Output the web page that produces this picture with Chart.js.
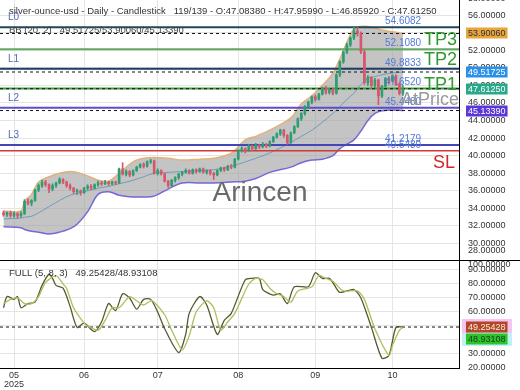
<!DOCTYPE html>
<html>
<head>
<meta charset="utf-8">
<script src="https://cdn.jsdelivr.net/npm/chart.js@4.4.1/dist/chart.umd.min.js"></script>
<style>
  html, body { margin: 0; padding: 0; background: #fff; }
  #wrap { position: relative; width: 520px; height: 390px; overflow: hidden; }
  #priceChart { position: absolute; left: 0; top: 0; }
  #stochChart { position: absolute; left: 0; top: 261px; }
</style>
</head>
<body>
<div id="wrap">
  <canvas id="priceChart" width="520" height="261"></canvas>
  <canvas id="stochChart" width="520" height="129"></canvas>
</div>
<script>
// ---- data ----
const headerText = "silver-ounce-usd - Daily - Candlestick   119/139 - O:47.08380 - H:47.95990 - L:46.85920 - C:47.61250";
const bbText = "BB (20, 2)   49.51725/53.90060/45.13390";
const stochText = "FULL (5, 8, 3)   49.25428/48.93108";
const watermark = "Arincen";

// daily candles [open, high, low, close]
const candles = [
  [33.5, 33.7, 33.1, 33.3], [33.3, 33.6, 33.1, 33.5], [33.5, 33.7, 33.0, 33.2], [33.2, 33.6, 33.0, 33.4],
  [33.4, 33.5, 32.9, 33.2], [33.2, 33.6, 33.0, 33.4], [33.4, 35.0, 33.3, 34.8], [34.8, 35.1, 34.4, 34.6],
  [34.6, 35.0, 34.3, 34.9], [34.9, 36.2, 34.8, 36.1], [36.1, 36.8, 35.9, 36.6], [36.6, 37.2, 36.4, 37.0],
  [37.0, 37.2, 36.5, 36.7], [36.7, 36.8, 35.8, 36.2], [36.2, 36.8, 36.0, 36.6], [36.6, 37.0, 36.4, 36.9],
  [36.9, 37.5, 36.8, 37.3], [37.3, 37.4, 36.8, 37.0], [37.0, 37.1, 36.4, 36.6], [36.6, 36.8, 36.1, 36.3],
  [36.3, 36.4, 35.7, 35.9], [35.9, 36.2, 35.6, 36.0], [36.0, 36.1, 35.5, 35.8], [35.8, 36.4, 35.7, 36.3],
  [36.3, 36.7, 36.1, 36.5], [36.5, 36.7, 36.1, 36.3], [36.3, 36.8, 36.2, 36.7], [36.7, 37.1, 36.5, 36.9],
  [36.9, 37.1, 36.6, 36.8], [36.8, 37.2, 36.7, 37.0], [37.0, 37.1, 36.6, 36.8], [36.8, 37.1, 36.7, 37.0],
  [37.0, 37.1, 36.7, 36.9], [36.9, 38.6, 36.8, 38.5], [38.5, 39.2, 37.8, 37.9], [37.9, 38.4, 37.7, 38.2],
  [38.2, 38.3, 37.6, 37.8], [37.8, 38.4, 37.7, 38.3], [38.3, 38.8, 38.2, 38.7], [38.7, 39.1, 38.6, 39.0],
  [39.0, 39.2, 38.6, 38.8], [38.8, 39.4, 38.7, 39.3], [39.3, 39.6, 39.1, 39.4], [39.4, 39.5, 37.9, 38.0],
  [38.0, 38.5, 37.8, 38.3], [38.3, 38.4, 37.8, 37.9], [37.9, 38.0, 37.0, 37.1], [37.1, 37.2, 36.4, 36.6],
  [36.6, 37.3, 36.5, 37.2], [37.2, 37.6, 37.0, 37.5], [37.5, 38.0, 37.3, 37.9], [37.9, 38.2, 37.7, 38.1],
  [38.1, 38.5, 38.0, 38.3], [38.3, 38.4, 37.9, 38.0], [38.0, 38.5, 37.9, 38.4], [38.4, 38.5, 38.0, 38.2],
  [38.2, 38.6, 38.1, 38.5], [38.5, 38.6, 38.0, 38.1], [38.1, 38.4, 37.9, 38.3], [38.3, 38.4, 37.8, 38.0],
  [38.0, 38.1, 37.3, 37.8], [37.8, 38.4, 37.7, 38.3], [38.3, 38.7, 38.2, 38.6], [38.6, 38.7, 38.2, 38.4],
  [38.4, 38.9, 38.3, 38.8], [38.8, 39.0, 38.5, 38.7], [38.7, 39.7, 38.6, 39.6], [39.6, 40.7, 39.5, 40.6],
  [40.6, 41.0, 40.4, 40.8], [40.8, 40.9, 40.3, 40.6], [40.6, 41.3, 40.5, 41.1], [41.1, 41.2, 40.6, 40.8],
  [40.8, 41.4, 40.7, 41.2], [41.2, 41.3, 40.8, 41.0], [41.0, 41.5, 40.9, 41.3], [41.3, 41.4, 40.9, 41.1],
  [41.1, 41.7, 41.0, 41.6], [41.6, 42.2, 41.5, 42.1], [42.1, 42.6, 42.0, 42.5], [42.5, 43.0, 42.3, 42.9],
  [42.9, 43.0, 42.1, 42.3], [42.3, 42.4, 41.3, 41.5], [41.5, 42.7, 41.4, 42.6], [42.6, 43.4, 42.5, 43.3],
  [43.3, 44.3, 43.2, 44.2], [44.2, 44.9, 44.0, 44.8], [44.8, 45.7, 44.6, 45.6], [45.6, 46.2, 45.4, 46.1],
  [46.1, 46.8, 45.9, 46.7], [46.7, 46.9, 46.2, 46.4], [46.4, 47.1, 46.3, 47.0], [47.0, 47.8, 46.9, 47.7],
  [47.7, 47.9, 47.0, 47.2], [47.2, 47.6, 47.0, 47.5], [47.5, 47.7, 46.9, 47.1], [47.1, 49.3, 47.0, 49.2],
  [49.2, 50.8, 49.0, 50.7], [50.7, 51.9, 50.5, 51.8], [51.8, 52.8, 51.6, 52.6], [52.6, 53.5, 52.4, 53.4],
  [53.4, 54.7, 53.2, 54.2], [54.2, 54.6, 53.6, 53.9], [53.9, 54.1, 51.6, 51.8], [51.8, 52.0, 48.1, 48.3],
  [48.3, 49.1, 48.0, 48.9], [48.9, 49.0, 47.8, 48.0], [48.0, 48.8, 47.7, 48.6], [48.6, 48.7, 45.8, 46.8],
  [46.8, 48.0, 46.6, 47.9], [47.9, 48.9, 47.8, 48.8], [48.8, 49.0, 48.2, 48.5], [48.5, 49.2, 48.4, 49.1],
  [49.1, 49.2, 48.0, 48.1], [48.1, 48.3, 46.9, 47.1], [47.0838, 47.9599, 46.8592, 47.6125]
];

// Bollinger band (20, 2) readings at these candle positions
const bandX   = [0, 5, 6, 8, 10, 13, 16, 19, 21, 24, 27, 30, 33, 37, 40, 43, 47, 51, 56, 60, 65, 69, 72, 76, 82, 85, 88, 91, 94, 96, 98, 100, 102, 104, 106, 108, 111, 114];
const bbUpper = [33.7, 33.7, 34.8, 35.6, 37.0, 37.6, 38.0, 38.2, 38.1, 37.7, 37.2, 37.1, 38.0, 39.3, 39.7, 39.8, 39.7, 39.5, 39.6, 39.7, 40.3, 41.8, 42.2, 42.9, 44.3, 45.9, 46.8, 48.0, 49.4, 51.0, 52.9, 54.4, 54.7, 54.7, 54.5, 54.3, 54.1, 53.9006];
const bbMid   = [32.8, 32.9, 33.0, 33.1, 33.5, 34.2, 34.9, 35.5, 35.7, 36.0, 36.3, 36.5, 36.8, 37.2, 37.6, 38.0, 38.1, 38.2, 38.3, 38.4, 38.8, 39.3, 39.7, 40.3, 41.5, 42.2, 42.9, 43.8, 44.8, 45.6, 46.4, 47.1, 48.1, 48.8, 49.0, 49.2, 49.4, 49.51725];
const bbLower = [31.9, 31.8, 31.6, 31.4, 31.3, 31.1, 31.3, 31.7, 32.2, 33.6, 35.6, 35.9, 35.5, 35.3, 35.3, 35.4, 36.2, 36.9, 36.9, 36.9, 37.0, 37.1, 37.4, 38.1, 38.7, 39.2, 39.5, 39.6, 40.0, 40.8, 41.3, 41.8, 42.8, 44.0, 44.8, 45.1, 45.2, 45.1339];

// horizontal levels
const levelValues = [54.6082, 52.1080, 49.8833, 47.6520, 45.4480, 41.2179, 40.5480];
const levelLeftNames  = ["L0", "", "L1", "", "L2", "L3", ""];
const levelRightNames = ["", "TP3", "TP2", "TP1", "AtPrice", "", "SL"];
// current values marked with dashed lines and axis tags
const bbNow = [53.90060, 49.51725, 45.13390];   // upper / mid / lower
const lastClose = 47.61250;

// stochastic FULL (5, 8, 3)
const kX   = [0, 1, 3, 4, 5, 7, 9, 11, 13, 14, 15, 17, 19, 21, 23, 26, 28, 30, 32, 34, 36, 38, 40, 42, 44, 46, 50, 52, 53, 56, 58, 61, 63, 65, 69, 71, 73, 74, 77, 79, 81, 83, 87, 89, 91, 93, 94, 96, 100, 102, 105, 108, 110, 112, 114];
const kVal = [63, 71, 69, 71, 63, 66, 67, 79, 87, 84, 79, 77, 64, 49, 52, 46, 53, 66, 61, 73, 70, 62, 69, 69, 60, 48, 31, 44, 59, 71, 65, 44, 54, 59, 83, 84, 84, 76, 72, 73, 66, 78, 78, 88, 84, 84, 81, 74, 76, 70, 49, 27, 29, 49, 49.25428];
const dX   = [0, 2, 4, 6, 8, 10, 12, 15, 17, 18, 20, 23, 24, 27, 29, 31, 33, 36, 38, 40, 42, 43, 46, 48, 51, 53, 55, 58, 60, 62, 64, 66, 70, 72, 74, 76, 78, 80, 82, 84, 88, 90, 92, 94, 97, 101, 103, 106, 110, 111, 113, 114];
const dVal = [66, 69, 70, 66, 66, 71, 81, 86, 80, 77, 63, 52, 50, 47, 54, 63, 63, 71, 68, 65, 68, 67, 58, 47, 33, 43, 60, 68, 63, 47, 53, 59, 80, 84, 83, 77, 73, 71, 67, 75, 78, 86, 84, 82, 75, 75, 69, 48, 29, 36, 47, 48.93108];

// axes
const monthTicks  = [3, 23, 44, 67, 89, 111];
const monthLabels = ["05", "06", "07", "08", "09", "10"];
const yearLabel = "2025";
const priceTicks = [30, 32, 34, 36, 38, 40, 42, 44, 46, 48, 50, 52, 54, 56];
const stochTicks = [20, 30, 40, 50, 60, 70, 80, 90];

// ---- drawing ----
const FONT = '"Liberation Sans", Arial, sans-serif';
Chart.defaults.font.family = FONT;
Chart.defaults.font.size = 9;
Chart.defaults.color = "#333";

const X_MIN = -1, X_MAX = 130;
const GREEN = "#2f9d72", RED = "#d7566b";
const GRID = "#e4e4e4";

const pts = (xs, ys) => xs.map((x, i) => ({ x: x, y: ys[i] }));
const hline = (v) => [{ x: X_MIN, y: v }, { x: X_MAX, y: v }];

const candleColors = candles.map(c => c[3] >= c[0] ? GREEN : RED);
const bodies = candles.map((c, i) => ({ x: i, y: [c[0], c[3]] }));
const wicks = candles.map((c, i) => ({ x: i, y: [c[2], c[1]] }));

const levelColors = ["#1d4858", "#62a862", "#1d3c66", "#3c9a3c", "#5a4ecf", "#4646b6", "#d43838"];

function text(ctx, s, x, y, font, color, align) {
  ctx.font = font;
  ctx.fillStyle = color;
  ctx.textAlign = align || "left";
  ctx.textBaseline = "middle";
  ctx.fillText(s, x, y);
}

function tag(ctx, s, y, bg, fg) {
  ctx.font = "9px " + FONT;
  const w = ctx.measureText(s).width;
  ctx.fillStyle = bg;
  ctx.fillRect(466, Math.round(y) - 5.5, w + 4, 11);
  text(ctx, s, 468, y + 0.5, "9px " + FONT, fg);
}

const priceOverlay = {
  id: "priceOverlay",
  afterDraw(chart) {
    const ctx = chart.ctx;
    const y = chart.scales.y;
    ctx.save();
    text(ctx, headerText, 9, 11, "9.5px " + FONT, "#333");
    text(ctx, bbText, 9, 30, "9.5px " + FONT, "#444");

    levelValues.forEach((v, i) => {
      const py = y.getPixelForValue(v);
      if (levelLeftNames[i]) text(ctx, levelLeftNames[i], 8, py - 10, "10px " + FONT, "#4d6db3");
      text(ctx, v.toFixed(4), 385, py - 6, "10px " + FONT, "#5479d8");
      const name = levelRightNames[i];
      if (name === "SL") text(ctx, name, 433, py + 12, "18px " + FONT, "#d02828");
      else if (name === "AtPrice") text(ctx, name, 401, py - 8, "18px " + FONT, "#9a9a9a");
      else if (name === "TP1") text(ctx, name, 424, py - 3, "18px " + FONT, "#2f9a2f");
      else if (name) text(ctx, name, 424, py - 9, "18px " + FONT, "#2f9a2f");
    });

    text(ctx, watermark, 260, 193, "28px " + FONT, "#6a6a6a", "center");

    // clipped edge labels of the price axis
    text(ctx, (58).toFixed(5), 468, -1, "9px " + FONT, "#333");
    text(ctx, (28).toFixed(5), 468, 251, "9px " + FONT, "#333");

    tag(ctx, bbNow[0].toFixed(5), y.getPixelForValue(bbNow[0]), "#e6a63c", "#333");
    tag(ctx, bbNow[1].toFixed(5), y.getPixelForValue(bbNow[1]), "#2b91e8", "#fff");
    tag(ctx, lastClose.toFixed(5), y.getPixelForValue(lastClose), "#27a88a", "#fff");
    tag(ctx, bbNow[2].toFixed(5), y.getPixelForValue(bbNow[2]), "#5b36d8", "#fff");

    // separator across the whole width
    ctx.strokeStyle = "#000";
    ctx.lineWidth = 1;
    ctx.beginPath();
    ctx.moveTo(0, 260.5);
    ctx.lineTo(520, 260.5);
    ctx.stroke();
    ctx.restore();
  }
};

const stochOverlay = {
  id: "stochOverlay",
  afterDraw(chart) {
    const ctx = chart.ctx;
    const y = chart.scales.y;
    ctx.save();
    text(ctx, stochText, 9, 12, "9.5px " + FONT, "#333");
    text(ctx, (100).toFixed(5), 468, 4, "9px " + FONT, "#333");
    const ky = y.getPixelForValue(kVal[kVal.length - 1]);
    ctx.fillStyle = "#f6c4f0";
    ctx.fillRect(462, ky - 8, 50, 14);
    ctx.fillStyle = "#bff3f3";
    ctx.fillRect(462, ky + 6, 50, 13);
    tag(ctx, kVal[kVal.length - 1].toFixed(5), ky, "#b3452c", "#f4f0d0");
    tag(ctx, dVal[dVal.length - 1].toFixed(5), ky + 12, "#2cc42c", "#1a3a1a");
    ctx.restore();
  }
};

const fixRight = (s) => { s.width = 61; s.paddingTop = 0; s.paddingBottom = 0; };

// price panel
const levelSets = levelValues.map((v, i) => ({
  type: "line", data: hline(v), borderColor: levelColors[i],
  borderWidth: i === 6 ? 1.5 : 2, pointRadius: 0, order: 5
}));
const dashedSets = [bbNow[0], bbNow[1], lastClose, bbNow[2]].map(v => ({
  type: "line", data: hline(v), borderColor: "#111", borderWidth: 1,
  borderDash: [3, 3], pointRadius: 0, order: 4
}));

new Chart(document.getElementById("priceChart"), {
  type: "bar",
  data: {
    datasets: [
      { type: "line", data: pts(bandX, bbUpper), borderColor: "#e2b27a", borderWidth: 1.5,
        pointRadius: 0, tension: 0.35, fill: "+1", backgroundColor: "rgba(160,160,160,0.62)", order: 10 },
      { type: "line", data: pts(bandX, bbLower), borderColor: "#7767d8", borderWidth: 1.5,
        pointRadius: 0, tension: 0.35, fill: false, order: 9 },
      { type: "line", data: pts(bandX, bbMid), borderColor: "#6c9db8", borderWidth: 1,
        pointRadius: 0, tension: 0.35, fill: false, order: 8 },
      ...levelSets,
      ...dashedSets,
      { data: wicks, backgroundColor: candleColors, barThickness: 1, grouped: false, order: 1 },
      { data: bodies, backgroundColor: candleColors, barThickness: 2, grouped: false,
        minBarLength: 1, order: 0 }
    ]
  },
  options: {
    responsive: false,
    animation: false,
    plugins: { legend: { display: false }, tooltip: { enabled: false } },
    layout: { padding: 0 },
    scales: {
      x: {
        type: "linear", min: X_MIN, max: X_MAX, offset: false,
        grid: { color: GRID, drawTicks: false, offset: false },
        border: { color: "#000" },
        ticks: { display: false },
        afterBuildTicks: (s) => { s.ticks = monthTicks.map(v => ({ value: v })); },
        afterFit: (s) => { s.height = 1; s.paddingLeft = 0; s.paddingRight = 0; }
      },
      y: {
        position: "right", min: 28.13, max: 57.71,
        grid: { color: GRID, drawTicks: false },
        border: { color: "#000" },
        ticks: { padding: 9, callback: (v) => v.toFixed(5) },
        afterBuildTicks: (s) => { s.ticks = priceTicks.map(v => ({ value: v })); },
        afterFit: fixRight
      }
    }
  },
  plugins: [priceOverlay]
});

// stochastic panel
new Chart(document.getElementById("stochChart"), {
  type: "line",
  data: {
    datasets: [
      { data: pts(dX, dVal), borderColor: "#a8c25c", borderWidth: 1.3, pointRadius: 0, tension: 0.25 },
      { data: pts(kX, kVal), borderColor: "#5a5630", borderWidth: 1.3, pointRadius: 0, tension: 0.25 },
      { data: hline(kVal[kVal.length - 1]), borderColor: "#111", borderWidth: 1,
        borderDash: [3, 3], pointRadius: 0 }
    ]
  },
  options: {
    responsive: false,
    animation: false,
    plugins: { legend: { display: false }, tooltip: { enabled: false } },
    layout: { padding: 0 },
    scales: {
      x: {
        type: "linear", min: X_MIN, max: X_MAX,
        grid: { color: GRID, drawTicks: false },
        border: { color: "#000" },
        ticks: {
          padding: 3, maxRotation: 0, autoSkip: false,
          font: { size: 9, lineHeight: 1 },
          callback: (v, i) => i === 0 ? [monthLabels[0], yearLabel] : monthLabels[i]
        },
        afterBuildTicks: (s) => { s.ticks = monthTicks.map(v => ({ value: v })); },
        afterFit: (s) => { s.height = 22; s.paddingLeft = 0; s.paddingRight = 0; }
      },
      y: {
        position: "right", min: 20, max: 96.4,
        grid: { color: GRID, drawTicks: false },
        border: { color: "#000" },
        ticks: { padding: 9, callback: (v) => v.toFixed(5) },
        afterBuildTicks: (s) => { s.ticks = stochTicks.map(v => ({ value: v })); },
        afterFit: fixRight
      }
    }
  },
  plugins: [stochOverlay]
});
</script>
</body>
</html>
